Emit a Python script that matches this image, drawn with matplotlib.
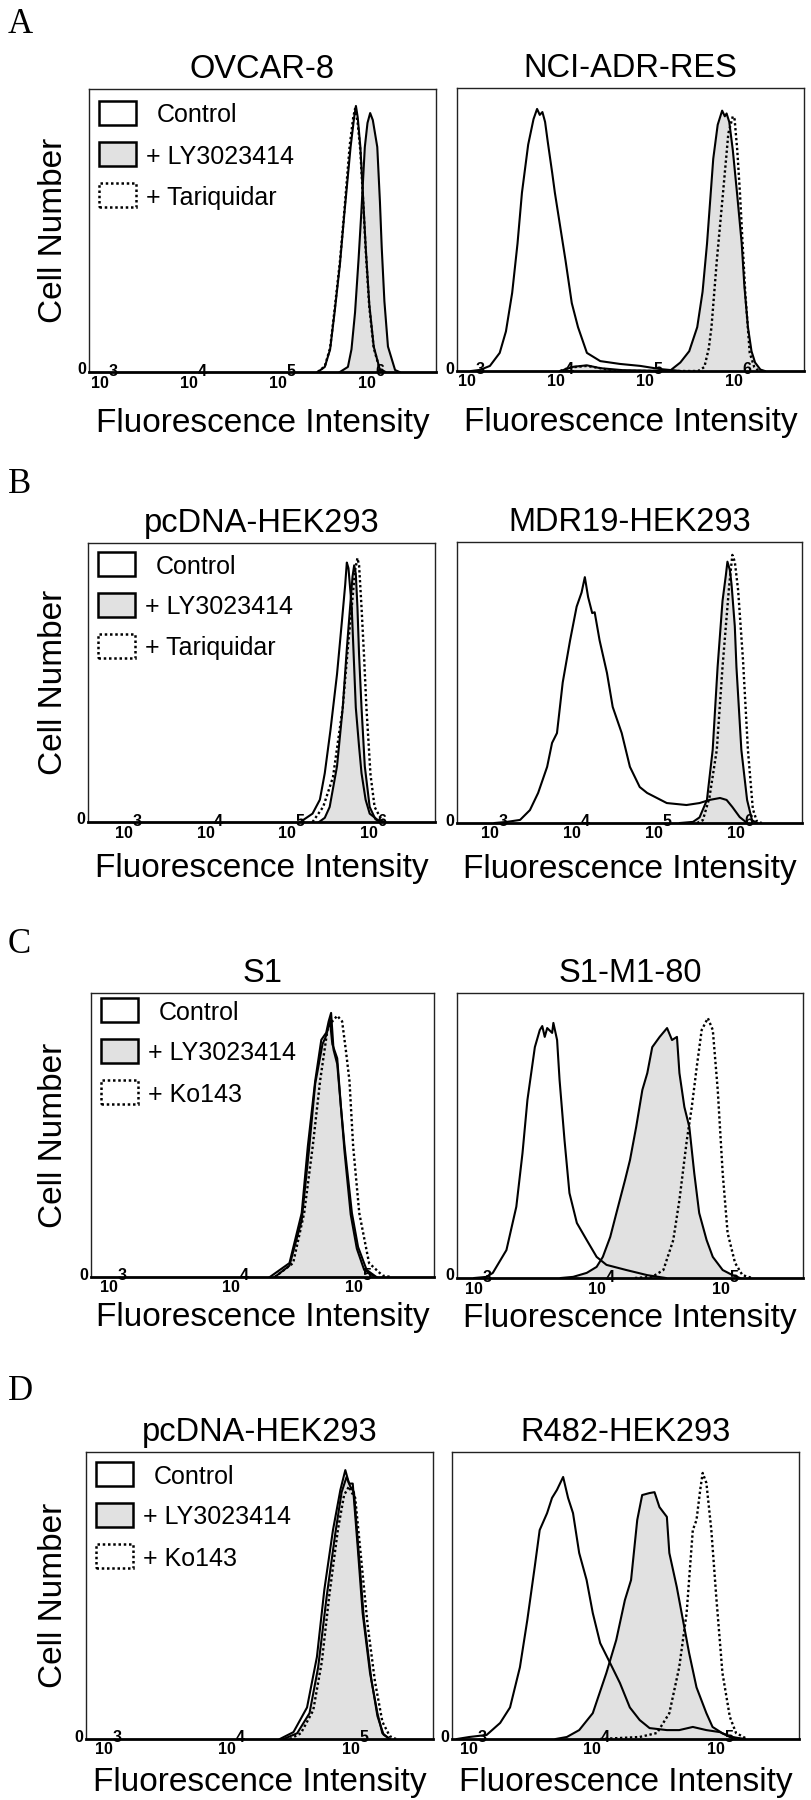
import matplotlib
matplotlib.use("Agg")
import matplotlib.pyplot as plt
from matplotlib.patches import Rectangle

plt.rcParams['font.family'] = ['Liberation Sans', 'DejaVu Sans']

# x = log10(fluorescence intensity), y = cell number (% of axis height)

# A - OVCAR-8
ovcar8_ctrl_x = [5.30, 5.38, 5.44, 5.49, 5.55, 5.60, 5.67, 5.71, 5.73, 5.75, 5.78, 5.81, 5.84, 5.88,
                 5.93, 6.00, 6.06]
ovcar8_ctrl_y = [0, 1.8, 8, 21, 38, 56, 79.5, 90, 94, 90, 79.5, 62, 44, 24, 9, 0.7, 0]
ovcar8_ly_x = [5.55, 5.64, 5.68, 5.72, 5.76, 5.79, 5.83, 5.86, 5.89, 5.92, 5.97, 6.00, 6.02, 6.05,
               6.09, 6.17, 6.22]
ovcar8_ly_y = [0, 1.8, 8, 21, 40, 56, 79.5, 88, 91.5, 89, 79.5, 60, 44, 25, 9, 0.7, 0]
ovcar8_tq_x = [5.30, 5.38, 5.44, 5.49, 5.55, 5.60, 5.66, 5.70, 5.72, 5.75, 5.78, 5.81, 5.84, 5.88,
               5.93, 6.00, 6.06]
ovcar8_tq_y = [0, 2, 8.5, 22, 39, 57, 80, 90, 93, 88, 78, 61, 43, 23, 8.5, 0.7, 0]

# A - NCI-ADR-RES
ncires_ctrl_x = [2.90, 3.00, 3.11, 3.22, 3.29, 3.36, 3.42, 3.47, 3.54, 3.60, 3.64, 3.67, 3.70, 3.73,
                 3.76, 3.81, 3.84, 3.90, 3.96, 4.03, 4.10, 4.20, 4.35, 4.57, 4.80, 5.02, 5.25]
ncires_ctrl_y = [0, 0.4, 1.8, 6.4, 14, 27.6, 45, 63, 80, 89, 92.6, 90.5, 91.5, 88,
                 81, 70, 63, 51, 39, 24, 15.5, 6.4, 3.5, 2.5, 1.8, 0.7, 0]
ncires_ly_x = [3.90, 4.05, 4.20, 4.35, 4.60, 5.13, 5.25, 5.35, 5.44, 5.50, 5.55, 5.62, 5.67, 5.72,
               5.75, 5.77, 5.80, 5.84, 5.89, 5.94, 5.97, 6.01, 6.05, 6.09, 6.15, 6.20]
ncires_ly_y = [0, 1.5, 2, 1, 0.3, 0, 3, 7, 15.5, 28, 45, 75, 87, 92,
               90, 91, 88, 78, 62, 45, 30, 15.5, 7, 3, 0.5, 0]
ncires_tq_x = [3.90, 4.00, 4.20, 4.35, 4.50, 5.45, 5.52, 5.57, 5.60, 5.66, 5.73, 5.79, 5.84, 5.86,
               5.89, 5.92, 5.95, 5.98, 6.03, 6.08, 6.13]
ncires_tq_y = [0, 1.2, 1.8, 1, 0, 0, 1.4, 8, 15.5, 39, 63, 84, 90, 89,
               78, 63, 45, 27.6, 6.4, 1.5, 0]

# B - pcDNA-HEK293
pcdna_b_ctrl_x = [5.00, 5.15, 5.24, 5.30, 5.37, 5.45, 5.51, 5.55, 5.57, 5.59, 5.63, 5.68, 5.72, 5.75,
                  5.80, 5.85, 5.95, 6.04]
pcdna_b_ctrl_y = [0, 3, 8, 17.5, 33, 53, 72, 85, 93, 91, 77, 41, 27, 17.5, 8, 3, 0.7, 0]
pcdna_b_ly_x = [5.23, 5.30, 5.36, 5.45, 5.52, 5.57, 5.61, 5.64, 5.66, 5.68, 5.70, 5.72, 5.75, 5.79,
                5.85, 5.92, 5.98]
pcdna_b_ly_y = [0, 1.5, 5.4, 20, 41, 62, 77, 88, 92, 89, 77, 60, 41, 20, 5.4, 1, 0]
pcdna_b_tq_x = [5.15, 5.28, 5.40, 5.52, 5.59, 5.63, 5.67, 5.70, 5.72, 5.75, 5.78, 5.81, 5.86, 5.91, 6.01]
pcdna_b_tq_y = [0, 5.4, 16, 41, 65, 77, 90, 94.6, 92, 77, 60, 41, 17, 5.4, 0]

# B - MDR19-HEK293
mdr19_ctrl_x = [2.90, 3.05, 3.21, 3.33, 3.43, 3.54, 3.60, 3.66, 3.73, 3.82, 3.90, 3.96, 4.00, 4.04,
                4.09, 4.12, 4.18, 4.27, 4.34, 4.45, 4.55, 4.67, 4.76, 5.00, 5.24, 5.40, 5.52, 5.65,
                5.73, 5.80, 5.89, 5.98]
mdr19_ctrl_y = [0, 0.4, 1.1, 4.6, 10.7, 20, 28.5, 32, 50, 65, 77, 82, 87.5, 80.4,
                74.7, 75, 65, 53.4, 41.3, 32, 20, 12.8, 10.7, 7.1, 6.4, 7.1, 8.2, 8.9,
                8.2, 5.7, 2.1, 0]
mdr19_ly_x = [5.16, 5.32, 5.40, 5.49, 5.56, 5.62, 5.68, 5.72, 5.74, 5.77, 5.79, 5.83, 5.85, 5.91,
              5.98, 6.04, 6.10]
mdr19_ly_y = [0, 0.4, 2, 8.2, 26, 55.5, 79, 88, 93, 90, 85, 70, 55.5, 26, 8.2, 1, 0]
mdr19_tq_x = [5.37, 5.44, 5.52, 5.61, 5.68, 5.76, 5.80, 5.83, 5.87, 5.93, 5.99, 6.05, 6.10, 6.16]
mdr19_tq_y = [0, 1, 9, 26, 55.5, 84, 95.4, 93, 83, 58, 26, 5, 0.5, 0]

# C - S1
s1_ctrl_x = [4.21, 4.37, 4.47, 4.52, 4.58, 4.63, 4.67, 4.69, 4.71, 4.73, 4.76, 4.79, 4.82, 4.88,
             4.93, 5.00, 5.08]
s1_ctrl_y = [0, 4.9, 22.5, 46, 69, 83.5, 86, 90, 93, 80, 75, 60, 46, 22.5, 10.6, 2.5, 0]
s1_ly_x = [4.25, 4.37, 4.47, 4.53, 4.58, 4.64, 4.67, 4.70, 4.72, 4.76, 4.79, 4.82, 4.87, 4.92,
           4.98, 5.07]
s1_ly_y = [0, 4, 20, 45, 68, 82, 85, 90.5, 82, 77, 60, 44, 22, 10, 2.5, 0]
s1_tq_x = [4.25, 4.40, 4.49, 4.56, 4.62, 4.68, 4.72, 4.76, 4.80, 4.83, 4.86, 4.89, 4.94, 5.02,
           5.13, 5.20]
s1_tq_y = [0, 4.9, 22.5, 46, 69, 87, 90, 92, 90, 80, 69, 46, 22.5, 4.9, 0.5, 0]

# C - S1-M1-80
s1m1_ctrl_x = [2.90, 3.00, 3.05, 3.16, 3.24, 3.29, 3.33, 3.39, 3.43, 3.45, 3.47, 3.49, 3.53, 3.54,
               3.57, 3.59, 3.63, 3.67, 3.73, 3.81, 3.89, 3.97, 4.13, 4.30, 4.45]
s1m1_ctrl_y = [0, 0.4, 1.8, 9.8, 25, 43.8, 62.5, 81, 87, 88.4, 84.6, 87.7, 86, 89.5,
               83.5, 69.5, 48.4, 29.8, 19.3, 13.3, 7.4, 4.6, 2.8, 1, 0]
s1m1_ly_x = [3.60, 3.70, 3.81, 3.89, 3.94, 4.00, 4.05, 4.12, 4.16, 4.21, 4.26, 4.30, 4.34, 4.40,
             4.46, 4.50, 4.54, 4.56, 4.60, 4.64, 4.68, 4.72, 4.78, 4.83, 4.91, 4.99, 5.05]
s1m1_ly_y = [0, 0.4, 1.8, 3.9, 7.4, 14.4, 22.8, 34.4, 41.4, 53, 66, 71.9, 81, 84.6,
             87.7, 83.5, 84.6, 71.9, 60, 53, 36.8, 22.8, 13.3, 7.4, 2.8, 1, 0]
s1m1_tq_x = [4.20, 4.34, 4.43, 4.51, 4.56, 4.62, 4.66, 4.70, 4.74, 4.79, 4.83, 4.87, 4.91, 4.95,
             5.01, 5.07, 5.15]
s1m1_tq_y = [0, 0.4, 2.8, 13.3, 27.4, 48.4, 60, 74, 87, 91.2, 87, 66, 36.8, 15.8, 5.3, 1, 0]

# D - pcDNA-HEK293
pcdna_d_ctrl_x = [4.32, 4.43, 4.54, 4.62, 4.68, 4.75, 4.81, 4.85, 4.88, 4.91, 4.95, 4.99, 5.05, 5.11,
                  5.15, 5.21]
pcdna_d_ctrl_y = [0, 2.4, 11, 28.6, 52, 72.8, 86.8, 93.7, 89, 89, 67, 44, 23, 9, 2, 0]
pcdna_d_ly_x = [4.35, 4.46, 4.56, 4.63, 4.70, 4.77, 4.82, 4.86, 4.89, 4.92, 4.96, 5.00, 5.06, 5.11,
                5.16, 5.21]
pcdna_d_ly_y = [0, 2, 9, 25, 50, 72, 86, 91.3, 88, 86, 64, 42, 21, 8, 1.5, 0]
pcdna_d_tq_x = [4.40, 4.49, 4.59, 4.66, 4.72, 4.79, 4.84, 4.88, 4.90, 4.93, 4.98, 5.03, 5.09, 5.15,
                5.21, 5.26]
pcdna_d_tq_y = [0, 2, 10, 27, 50, 73, 85, 88, 86, 84, 62, 40, 20, 6, 1, 0]

# D - R482-HEK293
r482_ctrl_x = [2.80, 2.90, 3.04, 3.15, 3.23, 3.31, 3.37, 3.43, 3.47, 3.53, 3.57, 3.61, 3.66, 3.70,
               3.74, 3.79, 3.85, 3.90, 3.96, 4.04, 4.12, 4.20, 4.28, 4.36, 4.50, 4.60, 4.71, 4.82,
               4.93, 5.01, 5.09]
r482_ctrl_y = [0, 0.7, 1.4, 5.6, 11, 25, 41.5, 60, 72.8, 78.7, 84, 86.8, 91.3, 84,
               78.7, 64.8, 55.4, 43.9, 33.4, 26.5, 19.5, 11, 6.6, 3.8, 3.1, 3.1, 4.2, 3.1,
               2.4, 0.7, 0]
r482_ly_x = [3.60, 3.69, 3.79, 3.90, 4.01, 4.09, 4.16, 4.21, 4.26, 4.30, 4.36, 4.40, 4.44, 4.50,
             4.52, 4.58, 4.63, 4.68, 4.74, 4.82, 4.87, 4.95, 5.03, 5.13]
r482_ly_y = [0, 0.7, 3.1, 9, 23, 34.5, 48.4, 55.4, 76.3, 85, 85.7, 86, 80.8, 77.4,
             64.8, 53, 41.5, 30, 18, 9, 4.2, 2, 0.7, 0]
r482_tq_x = [3.96, 4.28, 4.42, 4.52, 4.60, 4.66, 4.71, 4.74, 4.77, 4.79, 4.82, 4.86, 4.90, 4.95,
             5.01, 5.06, 5.15]
r482_tq_y = [0, 0.7, 2.1, 9, 25, 43.9, 72.8, 76.3, 86.8, 92.7, 89.2, 72.8, 49.5, 23,
             7.7, 2.1, 0]

titles = ["OVCAR-8", "NCI-ADR-RES", "pcDNA-HEK293", "MDR19-HEK293",
          "S1", "S1-M1-80", "pcDNA-HEK293", "R482-HEK293"]
row_letters = ["A", "B", "C", "D"]
inhibitors = ["Tariquidar", "Tariquidar", "Ko143", "Ko143"]

curves = [
    (ovcar8_ctrl_x, ovcar8_ctrl_y, ovcar8_ly_x, ovcar8_ly_y, ovcar8_tq_x, ovcar8_tq_y),
    (ncires_ctrl_x, ncires_ctrl_y, ncires_ly_x, ncires_ly_y, ncires_tq_x, ncires_tq_y),
    (pcdna_b_ctrl_x, pcdna_b_ctrl_y, pcdna_b_ly_x, pcdna_b_ly_y, pcdna_b_tq_x, pcdna_b_tq_y),
    (mdr19_ctrl_x, mdr19_ctrl_y, mdr19_ly_x, mdr19_ly_y, mdr19_tq_x, mdr19_tq_y),
    (s1_ctrl_x, s1_ctrl_y, s1_ly_x, s1_ly_y, s1_tq_x, s1_tq_y),
    (s1m1_ctrl_x, s1m1_ctrl_y, s1m1_ly_x, s1m1_ly_y, s1m1_tq_x, s1m1_tq_y),
    (pcdna_d_ctrl_x, pcdna_d_ctrl_y, pcdna_d_ly_x, pcdna_d_ly_y, pcdna_d_tq_x, pcdna_d_tq_y),
    (r482_ctrl_x, r482_ctrl_y, r482_ly_x, r482_ly_y, r482_tq_x, r482_tq_y),
]

# layout in pixels (left, top, right, bottom)
W, H = 812, 1800
boxes = [(89, 89, 436, 372), (457, 88, 804, 371),
         (88, 543, 435, 822), (457, 542, 802, 823),
         (91, 993, 434, 1277), (457, 993, 803, 1278),
         (86, 1452, 433, 1739), (452, 1452, 799, 1739)]
xlims = [(2.73, 6.63), (2.74, 6.64), (2.40, 6.65), (2.44, 6.65),
         (2.75, 5.55), (2.76, 5.56), (2.75, 5.56), (2.76, 5.57)]
decade_sets = [[3, 4, 5, 6], [3, 4, 5, 6], [3, 4, 5], [3, 4, 5]]
legend_top = [12, 9, 5, 10]
xlabel_gap = [36, 31, 25, 28]
letter_base = [33, 493, 953, 1400]

FILL = '#e1e1e1'
DOT = (0, (1, 1.1))

fig = plt.figure(figsize=(W / 100, H / 100), dpi=100)

for i, (l, t, r, b) in enumerate(boxes):
    row = i // 2
    w, h = r - l, b - t
    ax = fig.add_axes([l / W, 1 - b / H, w / W, h / H])
    ax.set_xlim(*xlims[i])
    ax.set_ylim(0, 100)

    cx, cy, lx, ly, tx, ty = curves[i]
    ax.fill_between(lx, ly, 0, color=FILL, lw=0, zorder=1)
    ax.plot(lx, ly, color='black', lw=1.5, zorder=3)
    ax.plot(cx, cy, color='black', lw=1.5, zorder=3)
    ax.plot(tx, ty, color='black', lw=1.7, ls=DOT, zorder=4)

    ax.set_xticks([])
    ax.set_yticks([])
    for s in ax.spines.values():
        s.set_linewidth(1.0)
        s.set_color('#222222')
    ax.spines['bottom'].set_linewidth(2.0)
    ax.spines['bottom'].set_color('black')

    ax.set_title(titles[i], fontsize=23.5, pad=8)

    # flow-cytometry style decade labels
    for d in decade_sets[row]:
        ax.annotate('10', xy=(d, 0), xycoords=('data', 'axes fraction'),
                    xytext=(-13, -11), textcoords='offset pixels',
                    ha='center', va='center', fontsize=11.5, fontweight='bold')
        ax.annotate(str(d), xy=(d, 0), xycoords=('data', 'axes fraction'),
                    xytext=(0, 1), textcoords='offset pixels',
                    ha='center', va='center', fontsize=11.5, fontweight='bold')
    ax.annotate('0', xy=(0, 0), xycoords='axes fraction', xytext=(-3, 2),
                textcoords='offset pixels', ha='right', va='center',
                fontsize=11.5, fontweight='bold')

    ax.annotate('Fluorescence Intensity', xy=(0.5, 0), xycoords='axes fraction',
                xytext=(0, -xlabel_gap[row]), textcoords='offset pixels',
                ha='center', va='top', fontsize=24)

    if i % 2 == 0:
        fig.text(54 / W, 1 - ((t + b) / 2) / H, 'Cell Number', rotation=90,
                 ha='center', va='center', fontsize=24)
        fig.text(8 / W, 1 - letter_base[row] / H, row_letters[row],
                 family=['Liberation Serif', 'DejaVu Serif'], fontsize=25,
                 ha='left', va='baseline')

        items = [('Control', 'white', '-', 68),
                 ('+ LY3023414', FILL, '-', 57),
                 ('+ ' + inhibitors[row], 'white', DOT, 57)]
        for k, (lab, fc, ls, txo) in enumerate(items):
            y0 = legend_top[row] + 41 * k
            ax.add_patch(Rectangle((10 / w, 1 - (y0 + 24) / h), 37 / w, 24 / h,
                                   transform=ax.transAxes, facecolor=fc,
                                   edgecolor='black', lw=1.8, ls=ls, zorder=5))
            ax.text(txo / w, 1 - (y0 + 12) / h, lab, transform=ax.transAxes,
                    ha='left', va='center_baseline', fontsize=18, zorder=5)

fig.savefig('out.png', dpi=100)
